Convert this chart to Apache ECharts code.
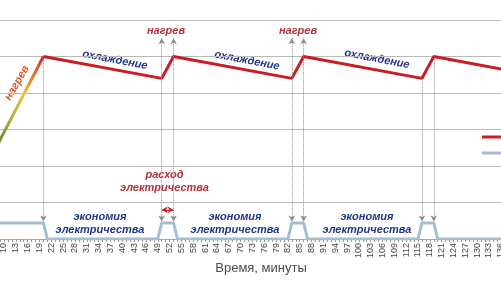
<!DOCTYPE html>
<html><head><meta charset="utf-8">
<script src="https://cdn.jsdelivr.net/npm/echarts@6/dist/echarts.min.js"></script>
<style>html,body{margin:0;padding:0;background:#fff}#c{width:501px;height:285px}</style>
</head><body><div id="c"></div>
<script>
// Minutes on the category axis (each category = 1 minute)
const minutes = Array.from({length: 141}, (_, i) => String(i));
// Heating ramp at the start (temperature)
const rampMinutes = [0, 20];
const rampTemps = [4.2, 25];
// Temperature (red line)
const tempMinutes = [20, 50, 53, 83, 86, 116, 119, 140];
const tempValues = [25, 22, 25, 22, 25, 22, 25, 22.9];
// Heater power (blue line)
const powerMinutes = [0, 20, 21, 49, 50, 53, 54, 82, 83, 86, 87, 115, 116, 119, 120, 140];
const powerValues = [2.2, 2.2, 0, 0, 2.2, 2.2, 0, 0, 2.2, 2.2, 0, 0, 2.2, 2.2, 0, 0];
// Dotted guide arrows
const guideMinutes = [20, 50, 53, 83, 86, 116, 119];
const guideTop = [24.6, 27.5, 27.5, 27.5, 27.5, 21.6, 24.6];
const guideTopArrow = [false, true, true, true, true, false, false];
const guideBottom = 2.4;
// consumption span arrow
const spanMinutes = [50, 53];
const spanLevel = 4;
const seriesNames = ['Температура', 'Нагреватель'];

const pairs = (xs, ys) => xs.map((x, i) => [x, ys[i]]);

const navy = '#22358a';
const dred = '#b3313a';
const fontFam = 'Liberation Sans, Arial, sans-serif';
function txt(text, x, y, color, rotDeg, size, lh) {
  return {
    type: 'text', x: x, y: y, rotation: (rotDeg || 0) * Math.PI / 180, silent: true,
    style: {
      text: text, fill: color, font: 'italic bold ' + (size || 11) + 'px ' + fontFam,
      textAlign: 'center', textVerticalAlign: 'middle', lineHeight: lh || 13
    }
  };
}

const chart = echarts.init(document.getElementById('c'), null, {renderer: 'canvas'});
chart.setOption({
  animation: false,
  grid: {left: -35.43, width: 552, top: 20, height: 219, containLabel: false, outerBoundsMode: 'none'},
  legend: {
    data: seriesNames, orient: 'vertical', left: 477, top: 126, itemWidth: 21, itemHeight: 3,
    icon: 'rect', itemGap: 4, textStyle: {fontSize: 12, color: '#333', fontFamily: fontFam}
  },
  xAxis: {
    type: 'category', data: minutes, boundaryGap: false,
    axisLine: {lineStyle: {color: '#a9a9a9', width: 1}},
    axisTick: {interval: 0, length: 3, lineStyle: {color: '#999'}},
    axisLabel: {
      interval: (idx) => idx % 3 === 1, rotate: 90, margin: 4,
      fontSize: 9, color: '#444', fontFamily: fontFam
    }
  },
  yAxis: {
    type: 'value', min: 0, max: 30, interval: 5,
    axisLabel: {show: false}, axisLine: {show: false}, axisTick: {show: false},
    splitLine: {lineStyle: {color: '#b9b9b9', width: 1}}
  },
  series: [
    {
      type: 'line', name: 'ramp', data: pairs(rampMinutes, rampTemps), symbol: 'none',
      lineStyle: {width: 3, color: new echarts.graphic.LinearGradient(0, 0, 0, 1, [
        {offset: 0, color: '#cf1f26'}, {offset: 0.12, color: '#e2682c'},
        {offset: 0.25, color: '#e8c23a'}, {offset: 0.4, color: '#b3b23e'},
        {offset: 0.55, color: '#6f8a3a'}, {offset: 1, color: '#3f8a3a'}])},
      z: 3
    },
    {
      type: 'line', name: seriesNames[0], data: pairs(tempMinutes, tempValues), symbol: 'none',
      itemStyle: {color: '#cc1b24'}, lineStyle: {width: 3, color: '#cc1b24'}, z: 4
    },
    {
      type: 'line', name: seriesNames[1], data: pairs(powerMinutes, powerValues), symbol: 'none',
      itemStyle: {color: '#a4bdd2'}, lineStyle: {width: 3, color: '#a4bdd2'}, z: 4
    },
    {
      type: 'line', name: 'guides', data: [], symbol: 'none',
      markLine: {
        silent: true, animation: false, label: {show: false},
        symbolSize: [5, 6],
        lineStyle: {type: 'dotted', color: '#8c8c8c', width: 1},
        data: guideMinutes.map((m, i) => [
          {coord: [m, guideTop[i]], symbol: guideTopArrow[i] ? 'arrow' : 'none'},
          {coord: [m, guideBottom], symbol: 'arrow'}
        ]).concat([[
          {coord: [spanMinutes[0], spanLevel], symbol: 'arrow', lineStyle: {type: 'solid', color: '#c0262d', width: 1}},
          {coord: [spanMinutes[1], spanLevel], symbol: 'arrow'}
        ]])
      }
    }
  ],
  graphic: [
    txt('нагрев', 17, 83, '#d9592b', 60),
    txt('охлаждение', 115, 60, navy, -11),
    txt('охлаждение', 247, 60.5, navy, -11),
    txt('охлаждение', 377, 59, navy, -11),
    txt('нагрев', 166, 31, dred, 0),
    txt('нагрев', 298, 31, dred, 0),
    txt('расход\nэлектричества', 164.5, 181.5, dred, 0, 11, 13),
    txt('экономия\nэлектричества', 100, 223.5, navy, 0, 11, 13),
    txt('экономия\nэлектричества', 235, 223.5, navy, 0, 11, 13),
    txt('экономия\nэлектричества', 367, 223.5, navy, 0, 11, 13),
    {type: 'text', x: 261, y: 268, silent: true,
     style: {text: 'Время, минуты', fill: '#4a4a55', font: '13px ' + fontFam, textAlign: 'center', textVerticalAlign: 'middle'}}
  ]
});
</script></body></html>
